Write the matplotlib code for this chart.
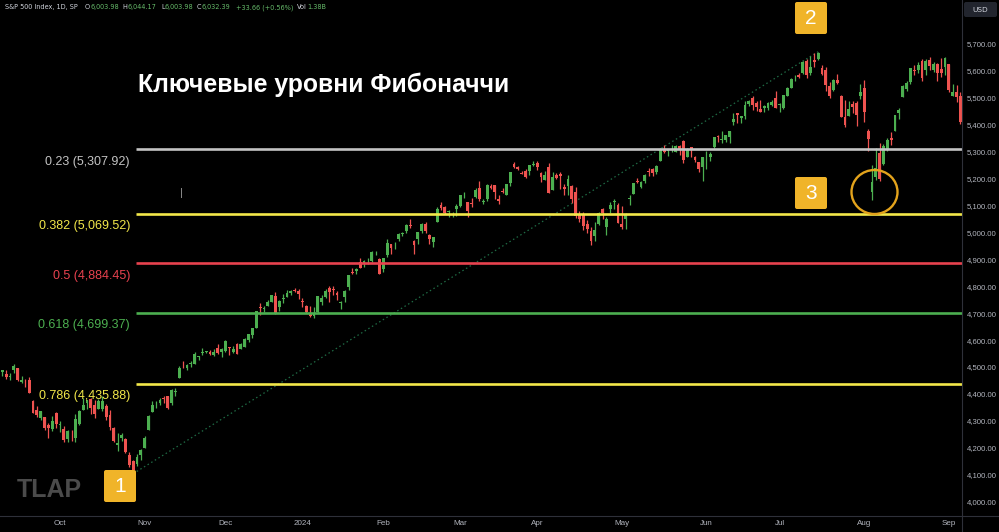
import numpy as np
import matplotlib
matplotlib.use("Agg")
from matplotlib import pyplot as plt
from matplotlib.patches import FancyBboxPatch, Ellipse
from matplotlib.lines import Line2D
from matplotlib.transforms import Affine2D

# S&P 500 daily candles, 11 Sep 2023 .. 6 Sep 2024 (one row per month)
opens = [
    4480, 4473, 4462, 4488, 4497, 4445, 4446, 4453, 4375, 4342, 4311, 4313, 4283, 4270, 4328,
    4284, 4270, 4234, 4259, 4235, 4289, 4339, 4367, 4380, 4360, 4343, 4345, 4357, 4322, 4274, 4211, 4236, 4233, 4175, 4152, 4140, 4172,
    4201, 4268, 4334, 4365, 4366, 4384, 4391, 4365, 4406, 4459, 4505, 4497, 4510, 4511, 4538, 4553, 4555, 4555, 4546, 4572, 4555,
    4560, 4574, 4557, 4587, 4568, 4576, 4600, 4618, 4646, 4721, 4714, 4726, 4743, 4764, 4724, 4753, 4758, 4773, 4786, 4782,
    4745, 4726, 4698, 4690, 4703, 4742, 4759, 4792, 4791, 4773, 4739, 4760, 4797, 4853, 4856, 4888, 4887, 4888, 4892, 4925, 4899,
    4862, 4917, 4957, 4951, 4974, 4995, 5004, 5027, 4967, 4976, 5004, 5032, 4989, 4963, 5039, 5100, 5093, 5074, 5067, 5086,
    5098, 5131, 5111, 5109, 5132, 5164, 5111, 5124, 5173, 5175, 5123, 5154, 5140, 5182, 5254, 5243, 5219, 5228, 5226, 5248,
    5258, 5221, 5195, 5244, 5158, 5211, 5218, 5167, 5172, 5171, 5149, 5065, 5068, 5032, 5005, 4988, 5029, 5085, 5019, 5085, 5114, 5103,
    5029, 5050, 5123, 5142, 5188, 5169, 5190, 5226, 5233, 5222, 5264, 5310, 5303, 5306, 5299, 5319, 5340, 5281, 5316, 5278, 5259, 5244,
    5283, 5278, 5316, 5357, 5343, 5341, 5354, 5409, 5441, 5424, 5431, 5477, 5499, 5481, 5459, 5460, 5461, 5473, 5499,
    5471, 5461, 5507, 5537, 5572, 5584, 5591, 5635, 5591, 5638, 5644, 5610, 5602, 5544, 5529, 5565, 5505, 5428, 5433, 5477, 5479, 5505,
    5537, 5377, 5151, 5206, 5294, 5252, 5306, 5351, 5376, 5443, 5502, 5531, 5557, 5603, 5604, 5637, 5602, 5639, 5602, 5624, 5607, 5613,
    5623, 5507, 5521, 5507,
]
highs = [
    4490, 4487, 4479, 4511, 4497, 4466, 4457, 4462, 4376, 4357, 4338, 4314, 4292, 4318, 4334,
    4300, 4282, 4266, 4268, 4325, 4341, 4386, 4378, 4385, 4377, 4383, 4393, 4364, 4340, 4276, 4255, 4255, 4236, 4183, 4156, 4178, 4194,
    4245, 4320, 4374, 4372, 4386, 4391, 4393, 4418, 4421, 4503, 4521, 4511, 4521, 4557, 4542, 4569, 4560, 4562, 4568, 4587, 4569,
    4599, 4575, 4579, 4590, 4590, 4609, 4623, 4644, 4709, 4738, 4725, 4749, 4768, 4779, 4748, 4772, 4784, 4785, 4793, 4789,
    4755, 4729, 4727, 4722, 4764, 4766, 4791, 4799, 4802, 4782, 4744, 4785, 4842, 4868, 4866, 4903, 4898, 4906, 4929, 4932, 4906,
    4906, 4975, 4958, 4963, 4999, 5000, 5031, 5049, 4971, 5002, 5033, 5039, 4993, 4983, 5094, 5111, 5097, 5081, 5077, 5104,
    5140, 5149, 5114, 5128, 5165, 5189, 5125, 5179, 5179, 5176, 5137, 5165, 5179, 5225, 5261, 5247, 5229, 5236, 5249, 5264,
    5263, 5222, 5229, 5256, 5223, 5220, 5224, 5178, 5211, 5175, 5169, 5079, 5077, 5046, 5019, 5038, 5076, 5089, 5057, 5114, 5123, 5110,
    5096, 5073, 5140, 5181, 5201, 5191, 5215, 5239, 5238, 5251, 5311, 5325, 5305, 5325, 5324, 5323, 5342, 5312, 5316, 5283, 5260, 5280,
    5303, 5299, 5354, 5362, 5376, 5362, 5376, 5441, 5442, 5432, 5488, 5490, 5506, 5486, 5490, 5472, 5483, 5490, 5524,
    5480, 5510, 5539, 5571, 5583, 5591, 5635, 5642, 5655, 5666, 5670, 5622, 5615, 5556, 5567, 5586, 5508, 5492, 5488, 5487, 5488, 5551,
    5566, 5383, 5250, 5312, 5331, 5328, 5351, 5371, 5435, 5463, 5546, 5561, 5608, 5620, 5633, 5643, 5642, 5651, 5631, 5628, 5646, 5651,
    5624, 5552, 5546, 5522,
]
lows = [
    4467, 4457, 4453, 4478, 4447, 4442, 4425, 4402, 4329, 4316, 4303, 4265, 4238, 4264, 4274,
    4260, 4221, 4220, 4226, 4220, 4284, 4339, 4345, 4325, 4311, 4343, 4338, 4304, 4268, 4223, 4190, 4224, 4182, 4127, 4104, 4132, 4153,
    4198, 4268, 4334, 4347, 4359, 4365, 4343, 4358, 4394, 4459, 4495, 4488, 4500, 4511, 4525, 4545, 4552, 4546, 4541, 4547, 4537,
    4557, 4544, 4551, 4547, 4565, 4575, 4594, 4609, 4643, 4694, 4705, 4725, 4743, 4698, 4708, 4736, 4758, 4768, 4780, 4751,
    4722, 4700, 4687, 4682, 4700, 4731, 4757, 4740, 4768, 4747, 4714, 4740, 4785, 4845, 4844, 4866, 4870, 4881, 4888, 4916, 4845,
    4853, 4907, 4918, 4937, 4969, 4987, 4996, 5017, 4920, 4956, 4999, 4999, 4955, 4946, 5038, 5081, 5068, 5057, 5058, 5061,
    5094, 5127, 5056, 5092, 5128, 5117, 5104, 5115, 5161, 5125, 5104, 5146, 5138, 5172, 5240, 5230, 5216, 5203, 5214, 5245,
    5230, 5188, 5194, 5146, 5157, 5197, 5160, 5139, 5139, 5107, 5052, 5039, 5008, 4999, 4953, 4969, 5027, 5048, 4990, 5073, 5088, 5035,
    5013, 5011, 5101, 5142, 5181, 5165, 5182, 5210, 5207, 5217, 5263, 5296, 5284, 5299, 5298, 5287, 5257, 5279, 5280, 5262, 5222, 5191,
    5235, 5265, 5311, 5335, 5331, 5336, 5331, 5398, 5404, 5404, 5421, 5470, 5455, 5451, 5447, 5446, 5454, 5469, 5460,
    5446, 5459, 5507, 5537, 5563, 5573, 5587, 5574, 5584, 5614, 5640, 5584, 5523, 5498, 5524, 5551, 5426, 5390, 5430, 5444, 5395, 5494,
    5410, 5302, 5119, 5193, 5191, 5249, 5302, 5324, 5376, 5420, 5501, 5526, 5550, 5585, 5591, 5560, 5585, 5602, 5593, 5561, 5578, 5582,
    5521, 5504, 5485, 5402,
]
closes = [
    4487, 4462, 4467, 4505, 4450, 4453, 4444, 4402, 4330, 4320, 4337, 4274, 4274, 4300, 4288,
    4288, 4229, 4263, 4258, 4308, 4336, 4358, 4376, 4349, 4327, 4373, 4373, 4314, 4278, 4224, 4217, 4248, 4186, 4137, 4117, 4167, 4193,
    4237, 4318, 4358, 4365, 4378, 4383, 4347, 4415, 4411, 4496, 4503, 4508, 4514, 4547, 4538, 4556, 4559, 4550, 4555, 4551, 4568,
    4595, 4569, 4567, 4549, 4585, 4604, 4622, 4644, 4707, 4720, 4719, 4740, 4768, 4698, 4746, 4755, 4775, 4782, 4783, 4770,
    4743, 4705, 4689, 4697, 4764, 4757, 4783, 4780, 4784, 4766, 4739, 4781, 4840, 4850, 4865, 4869, 4894, 4891, 4928, 4925, 4846,
    4906, 4959, 4943, 4954, 4995, 4998, 5027, 5022, 4953, 5001, 5030, 5006, 4976, 4982, 5087, 5089, 5070, 5078, 5069, 5096,
    5137, 5131, 5079, 5105, 5157, 5124, 5117, 5175, 5165, 5150, 5117, 5149, 5179, 5225, 5241, 5234, 5218, 5204, 5248, 5254,
    5243, 5205, 5211, 5147, 5204, 5202, 5209, 5161, 5199, 5123, 5061, 5051, 5022, 5011, 4967, 5010, 5070, 5071, 5048, 5100, 5116, 5036,
    5018, 5064, 5128, 5181, 5187, 5188, 5214, 5223, 5221, 5247, 5308, 5297, 5303, 5308, 5321, 5307, 5268, 5305, 5306, 5267, 5235, 5278,
    5283, 5291, 5354, 5352, 5347, 5361, 5375, 5421, 5434, 5431, 5473, 5487, 5473, 5464, 5448, 5469, 5478, 5482, 5460,
    5475, 5509, 5537, 5567, 5572, 5577, 5633, 5584, 5615, 5631, 5667, 5588, 5545, 5505, 5564, 5555, 5427, 5399, 5459, 5464, 5436, 5522,
    5446, 5347, 5186, 5240, 5199, 5319, 5344, 5344, 5434, 5455, 5543, 5554, 5608, 5597, 5621, 5571, 5635, 5617, 5626, 5592, 5592, 5648,
    5529, 5520, 5503, 5408,
]
# trading days per month shown (Sep 2023 .. Sep 2024)
month_days = [15, 22, 21, 20, 21, 20, 20, 22, 22, 19, 22, 22, 4]
month_labels = ['Oct', 'Nov', 'Dec', '2024', 'Feb', 'Mar', 'Apr', 'May', 'Jun', 'Jul', 'Aug', 'Sep']

fib_ratios = ['0.23', '0.382', '0.5', '0.618', '0.786']
fib_prices = [5307.92, 5069.52, 4884.45, 4699.37, 4435.88]
fib_colors = ['#c4c4c4', '#f3e84a', '#e8424f', '#4caf50', '#f3e84a']

title = 'Ключевые уровни Фибоначчи'
header = [('S&P 500 Index, 1D, SP', ''), ('O', '6,003.98'), ('H', '6,044.17'),
          ('L', '6,003.98'), ('C', '6,032.39'), ('', '+33.66 (+0.56%)'), ('Vol', '1.38B')]

UP = '#4caf50'
DOWN = '#ef5350'
GRID = '#2e3039'
TXT = '#b2b5be'

o = np.array(opens); h = np.array(highs); l = np.array(lows); c = np.array(closes)
idx = np.arange(len(c))
up = c >= o
cols = np.where(up, UP, DOWN)

W, H = 999, 532
fig = plt.figure(figsize=(W / 100, H / 100), dpi=100, facecolor='black')
px = Affine2D().scale(1 / W, -1 / H).translate(0, 1) + fig.transFigure  # pixel coords from top-left
rend = fig.canvas.get_renderer()

ax = fig.add_axes([0, 16 / H, 962 / W, 516 / H])
ax.set_facecolor('black')
ax.set_xlim(-0.59, 249.4)
ax.set_ylim(3947, 5862)

# candles
ax.vlines(idx, l, h, colors=cols, lw=0.9, zorder=3)
body = np.maximum(np.abs(c - o), 1.5)
ax.bar(idx, body, bottom=np.minimum(o, c), width=0.74, color=cols, zorder=4, linewidth=0)

# fibonacci
i_lo = int(np.argmin(l)); i_hi = int(np.argmax(h))
ax.plot([i_lo, i_hi], [l[i_lo], h[i_hi]], ls=(0, (1.2, 2.2)), color='#1f6b45', lw=0.9, zorder=2)
for r, p, col in zip(fib_ratios, fib_prices, fib_colors):
    ax.hlines(p, i_lo + 0.8, 249.4, colors=col, lw=1.9, zorder=5)
    ax.annotate('%s (%s)' % (r, format(p, ',.2f')), (i_lo + 0.8, p), xytext=(-4.5, -8.8),
                textcoords='offset points', ha='right', va='center', color=col,
                fontsize=9, family='Liberation Sans', zorder=6)

# axes styling
for s in ax.spines.values():
    s.set_visible(False)
starts = np.concatenate([[0], np.cumsum(month_days)[:-1]])[1:]
ax.set_xticks(starts)
ax.set_xticklabels(month_labels, family='Liberation Sans')
ax.yaxis.tick_right()
yt = np.arange(4000, 5701, 100)
ax.set_yticks(yt)
ax.set_yticklabels([format(v, ',.2f') for v in yt], family='Liberation Sans')
ax.tick_params(axis='y', length=0, pad=3.4, labelsize=5.6, labelcolor=TXT)
ax.tick_params(axis='x', length=0, pad=3.2, labelsize=5.8, labelcolor=TXT)

fig.add_artist(Line2D([962, 962], [0, 532], transform=px, color=GRID, lw=0.8))
fig.add_artist(Line2D([0, 999], [516, 516], transform=px, color=GRID, lw=0.8))

# USD badge
fig.add_artist(FancyBboxPatch((964, 2), 33, 15, boxstyle='round,pad=0,rounding_size=2',
                              transform=px, fc='#22252e', ec='none'))
fig.text(980.5, 9.5, 'USD', transform=px, ha='center', va='center', fontsize=5.3, color='#d1d4dc')

# header line
hx = [5, 85, 122, 161, 197, 236, 297]
for x0, (k, v) in zip(hx, header):
    if k:
        t = fig.text(x0, 9.3, k, transform=px, ha='left', va='baseline', fontsize=4.7, color='#d1d4dc')
        x0 += t.get_window_extent(rend).width + 0.3
    if v:
        fig.text(x0, 9.3, v, transform=px, ha='left', va='baseline', fontsize=4.7, color='#66bb6a')

# title and watermark
fig.text(138, 85, title, transform=px, ha='left', va='center', fontsize=17.8,
         fontweight='bold', family='Liberation Sans', color='white')
fig.text(17, 490, 'TLAP', transform=px, ha='left', va='center', fontsize=18,
         fontweight='bold', family='Liberation Sans', color='#4b4b4b')

# numbered markers
for n, (bx, by) in zip(['1', '2', '3'], [(104, 470), (795, 2), (795, 177)]):
    fig.add_artist(FancyBboxPatch((bx, by), 32, 32, boxstyle='round,pad=0,rounding_size=2',
                                  transform=px, fc='#f0b429', ec='none'))
    fig.text(bx + 16, by + 16.5, n, transform=px, ha='center', va='center', fontsize=15,
             family='Liberation Sans', color='white')

fig.add_artist(Ellipse((874.5, 192), 46, 44, transform=px, fill=False, ec='#e3a31c', lw=1.7))
fig.add_artist(Line2D([181, 181], [188, 197], transform=px, color='#8a8a8a', lw=0.7))

fig.savefig('out.png', dpi=100, facecolor='black')
